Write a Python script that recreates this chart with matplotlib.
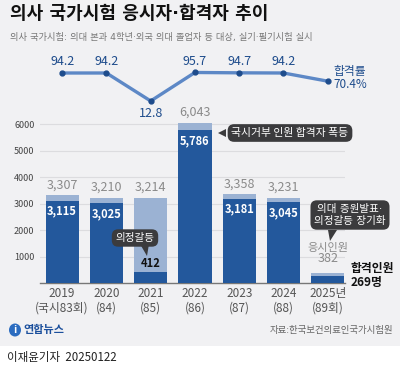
import matplotlib.pyplot as plt
from matplotlib.patches import Rectangle, Polygon, Ellipse

plt.rcParams['font.family'] = ['Noto Sans CJK KR', 'DejaVu Sans']
# DejaVu first so the middle dot stays narrow, hangul falls back to Noto
narrow_dot = ['DejaVu Sans', 'Noto Sans CJK KR']

years = ['2019\n(국시83회)', '2020\n(84)', '2021\n(85)', '2022\n(86)',
         '2023\n(87)', '2024\n(88)', '2025년\n(89회)']
applicants = [3307, 3210, 3214, 6043, 3358, 3231, 382]
passed = [3115, 3025, 412, 5786, 3181, 3045, 269]
pass_rate = [94.2, 94.2, 12.8, 95.7, 94.7, 94.2, 70.4]
yticks = [0, 1000, 2000, 3000, 4000, 5000, 6000]

bg = '#f1f1f3'
dark = '#23589c'
light = '#9bb2d3'
line_c = '#5d88c6'
navy = '#1e4c8c'

W, H = 400, 366
fig = plt.figure(figsize=(W / 100, H / 100), dpi=100)
fig.patch.set_facecolor(bg)


def box(l, t, r, b):
    return [l / W, 1 - b / H, (r - l) / W, (b - t) / H]


x = list(range(len(years)))

# bars
ax = fig.add_axes(box(40, 111, 345, 283))
ax.set_facecolor('none')
ax.bar(x, applicants, width=0.75, color=light, zorder=2)
ax.bar(x, passed, width=0.75, color=dark, zorder=3)
ax.set_xlim(-0.5, 6.39)
ax.set_ylim(0, 6500)
ax.set_yticks(yticks[1:])
ax.set_yticklabels([str(v) for v in yticks[1:]], fontsize=6.5, color='#444')
ax.tick_params(axis='y', length=0, pad=4)
ax.set_xticks(x)
ax.set_xticklabels(years, fontsize=8.5, color='#555', linespacing=1.1)
ax.tick_params(axis='x', length=0, pad=3)
ax.grid(axis='y', color='#dcdcdf', linewidth=0.8, zorder=0)
for s in ['top', 'right', 'left']:
    ax.spines[s].set_visible(False)
ax.spines['bottom'].set_color('#777')
ax.spines['bottom'].set_linewidth(1)

for i in x:
    if i == 6:
        ax.text(i, applicants[i] + 280, '382', ha='center', va='bottom',
                fontsize=9, color='#8a8a8a')
        ax.text(i, applicants[i] + 760, '응시인원', ha='center', va='bottom',
                fontsize=8, color='#8a8a8a')
        continue
    ax.text(i, applicants[i] + 150, f'{applicants[i]:,}', ha='center', va='bottom',
            fontsize=9, color='#8a8a8a')
    if i == 2:
        ax.text(i, passed[i] + 80, f'{passed[i]:,}', ha='center', va='bottom',
                fontsize=8, color='#111', fontweight='bold')
    else:
        ax.text(i, passed[i] - 150, f'{passed[i]:,}', ha='center', va='top',
                fontsize=8, color='white', fontweight='bold')
ax.text(6.52, 300, '합격인원\n269명', ha='left', va='center', fontsize=8.5,
        color='#111', fontweight='bold', linespacing=1.1)

# pass rate line
lax = fig.add_axes(box(40, 60, 345, 110))
lax.set_facecolor('none')
lax.plot(x, pass_rate, color=line_c, linewidth=2.4, marker='o', markersize=3.5,
         markerfacecolor=navy, markeredgecolor=navy)
lax.set_xlim(-0.5, 6.39)
lax.set_ylim(-13.4, 132)
lax.axis('off')
for i in x[:-1]:
    if pass_rate[i] < 50:
        lax.text(i, pass_rate[i] - 17, f'{pass_rate[i]}', ha='center', va='top',
                 fontsize=9, color=navy)
    else:
        lax.text(i, pass_rate[i] + 14, f'{pass_rate[i]}', ha='center', va='bottom',
                 fontsize=9, color=navy)
lax.text(6.12, pass_rate[-1] + 8, f'합격률\n{pass_rate[-1]}%', ha='left', va='center',
         fontsize=8.5, color=navy, linespacing=1.0)

# overlay for texts and callouts, pixel coordinates
ov = fig.add_axes([0, 0, 1, 1], zorder=5)
ov.set_xlim(0, W)
ov.set_ylim(H, 0)
ov.axis('off')
ov.set_facecolor('none')

ov.text(10, 14, '의사 국가시험 응시자·합격자 추이', fontsize=13, fontweight='bold',
        color='#111', va='center', ha='left', family=narrow_dot)
ov.text(10, 37, '의사 국가시험: 의대 본과 4학년·외국 의대 졸업자 등 대상, 실기·필기시험 실시',
        fontsize=6.7, color='#777', va='center', ha='left', family=narrow_dot)

callout = dict(boxstyle='round,pad=0.35,rounding_size=0.6', fc='#3b3b3d', ec='none')
ov.text(290, 133, '국시거부 인원 합격자 폭등', fontsize=7.8, color='white',
        ha='center', va='center', bbox=callout)
ov.add_patch(Polygon([[226, 129], [226, 137], [218, 133]], closed=True,
                     fc='#3b3b3d', ec='none'))
ov.text(135, 238, '의정갈등', fontsize=7.6, color='white',
        ha='center', va='center', bbox=callout)
ov.add_patch(Polygon([[140, 244], [149, 244], [147, 256]], closed=True,
                     fc='#3b3b3d', ec='none'))
ov.text(350, 215, '의대 증원발표·\n의정갈등 장기화', fontsize=7.6, color='white',
        ha='center', va='center', linespacing=1.25, bbox=callout, family=narrow_dot)
ov.add_patch(Polygon([[328, 230], [337, 230], [330, 241]], closed=True,
                     fc='#3b3b3d', ec='none'))

# logo and source
ov.add_patch(Ellipse((15, 330), 12, 13, fc='#2b6cc0', ec='none'))
ov.text(15, 330, 'i', fontsize=7.5, color='white', ha='center', va='center',
        fontstyle='italic', fontweight='bold')
ov.text(23, 330, '연합뉴스', fontsize=8, color='#1b4f9c', fontweight='bold',
        ha='left', va='center')
ov.text(393, 330, '자료:한국보건의료인국가시험원', fontsize=6.8, color='#666',
        ha='right', va='center')

ov.add_patch(Rectangle((0, 346), W, 20, fc='white', ec='none'))
ov.text(7, 358, '이재윤기자  20250122', fontsize=8.3, color='#222',
        ha='left', va='center')

fig.savefig('out.png', dpi=100, facecolor=bg)
